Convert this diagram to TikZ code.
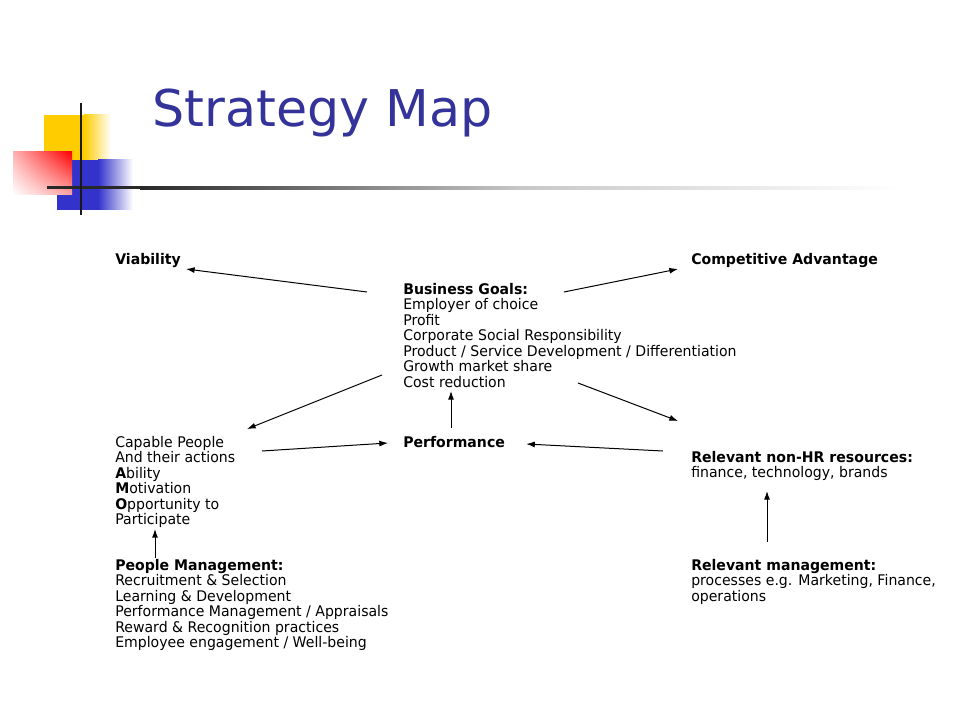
\documentclass[tikz,border=0pt]{standalone}
\usepackage{fontspec}
\setmainfont{DejaVu Sans}[FakeStretch=0.96,BoldFeatures={FakeStretch=0.96}]
\newfontfamily\titlefont{DejaVu Sans}
\usepackage{xcolor}
\usetikzlibrary{positioning,arrows.meta,shadings}
\definecolor{titleblue}{RGB}{51,51,153}
\definecolor{boxyellow}{RGB}{255,204,0}
\definecolor{boxblue}{RGB}{51,51,204}
\definecolor{boxred}{RGB}{255,0,0}
\definecolor{rulegray}{RGB}{40,40,40}

\begin{document}
\begin{tikzpicture}[x=0.75pt,y=-0.75pt,
  txt/.style={anchor=base west,inner sep=0pt,align=left,font=\fontsize{11}{11.6}\selectfont},
  pfeil/.style={-{Latex[length=6.5pt,width=4.5pt]},line width=0.75pt}]
\useasboundingbox (0,0) rectangle (960,720);
% corner squares
\fill[boxyellow] (44,115) rectangle (84,160);
\shade[left color=boxyellow,right color=white] (84,115) rectangle (111,160);
\fill[boxblue] (57,160) rectangle (98,210);
\shade[left color=boxblue,right color=white] (98,160) rectangle (133,210);
\shade[upper right=boxred,upper left=boxred!30,lower right=boxred!35,lower left=white] (13,152) rectangle (72,195);
% rules
\fill[rulegray] (47,186.5) rectangle (140,189.5);
\shade[left color=rulegray,right color=black!22] (140,186.5) rectangle (520,189.5);
\shade[left color=black!22,right color=white] (520,186.5) rectangle (900,189.5);
\draw[line width=1.6pt,black!90] (81,103) -- (81,215);
% title
\node[anchor=base west,inner sep=0pt,text=titleblue,font=\titlefont\fontsize{38}{40}\selectfont] (title) at (152,127) {Strategy Map};
% blocks (base = last line)
\node[txt] (viab) at (115,265) {\textbf{Viability}};
\node[txt] (compadv) at (691,265) {\textbf{Competitive Advantage}};
\node[txt] (goals) at (403,387.3) {\textbf{Business Goals:}\\Employer of choice\\Profit\\Corporate Social Responsibility\\Product / Service Development / Differentiation\\Growth market share\\Cost reduction};
\node[txt] (capable) at (115,524.5) {Capable People\\And their actions\\\textbf{A}bility\\\textbf{M}otivation\\\textbf{O}pportunity to\\Participate};
\node[txt] (perf) at (403,447) {\textbf{Performance}};
\node[txt] (nonhr) at (691,477.5) {\textbf{Relevant non-HR resources:}\\finance, technology, brands};
\node[txt] (peoplemgmt) at (115,647.5) {\textbf{People Management:}\\Recruitment \& Selection\\Learning \& Development\\Performance Management / Appraisals\\Reward \& Recognition practices\\Employee engagement / Well-being};
\node[txt] (relmgmt) at (691,601) {\textbf{Relevant management:}\\processes e.g. Marketing, Finance,\\operations};
% arrows
\draw[pfeil] ([shift={(-36,-95.3)}]goals.base west) -- ([shift={(5,4)}]viab.base east);
\draw[pfeil] ([shift={(161,-95.3)}]goals.base west) -- ([shift={(-13,4)}]compadv.base west);
\draw[pfeil] ([shift={(-21,-12.3)}]goals.base west) -- ([shift={(132,-95.5)}]capable.base west);
\draw[pfeil] ([shift={(175,-4.3)}]goals.base west) -- ([shift={(-13,-56.5)}]nonhr.base west);
\draw[pfeil] ([shift={(48,-19)}]perf.base west) -- ([shift={(48,3.7)}]goals.base west);
\draw[pfeil] ([shift={(147,-73.5)}]capable.base west) -- ([shift={(-15,-4)}]perf.base west);
\draw[pfeil] ([shift={(-28,-26.5)}]nonhr.base west) -- ([shift={(21,-3)}]perf.base east);
\draw[pfeil] ([shift={(76,-59)}]relmgmt.base west) -- ([shift={(76,13.5)}]nonhr.base west);
\draw[pfeil] ([shift={(40,-89.5)}]peoplemgmt.base west) -- ([shift={(40,4.5)}]capable.base west);
\end{tikzpicture}
\end{document}
